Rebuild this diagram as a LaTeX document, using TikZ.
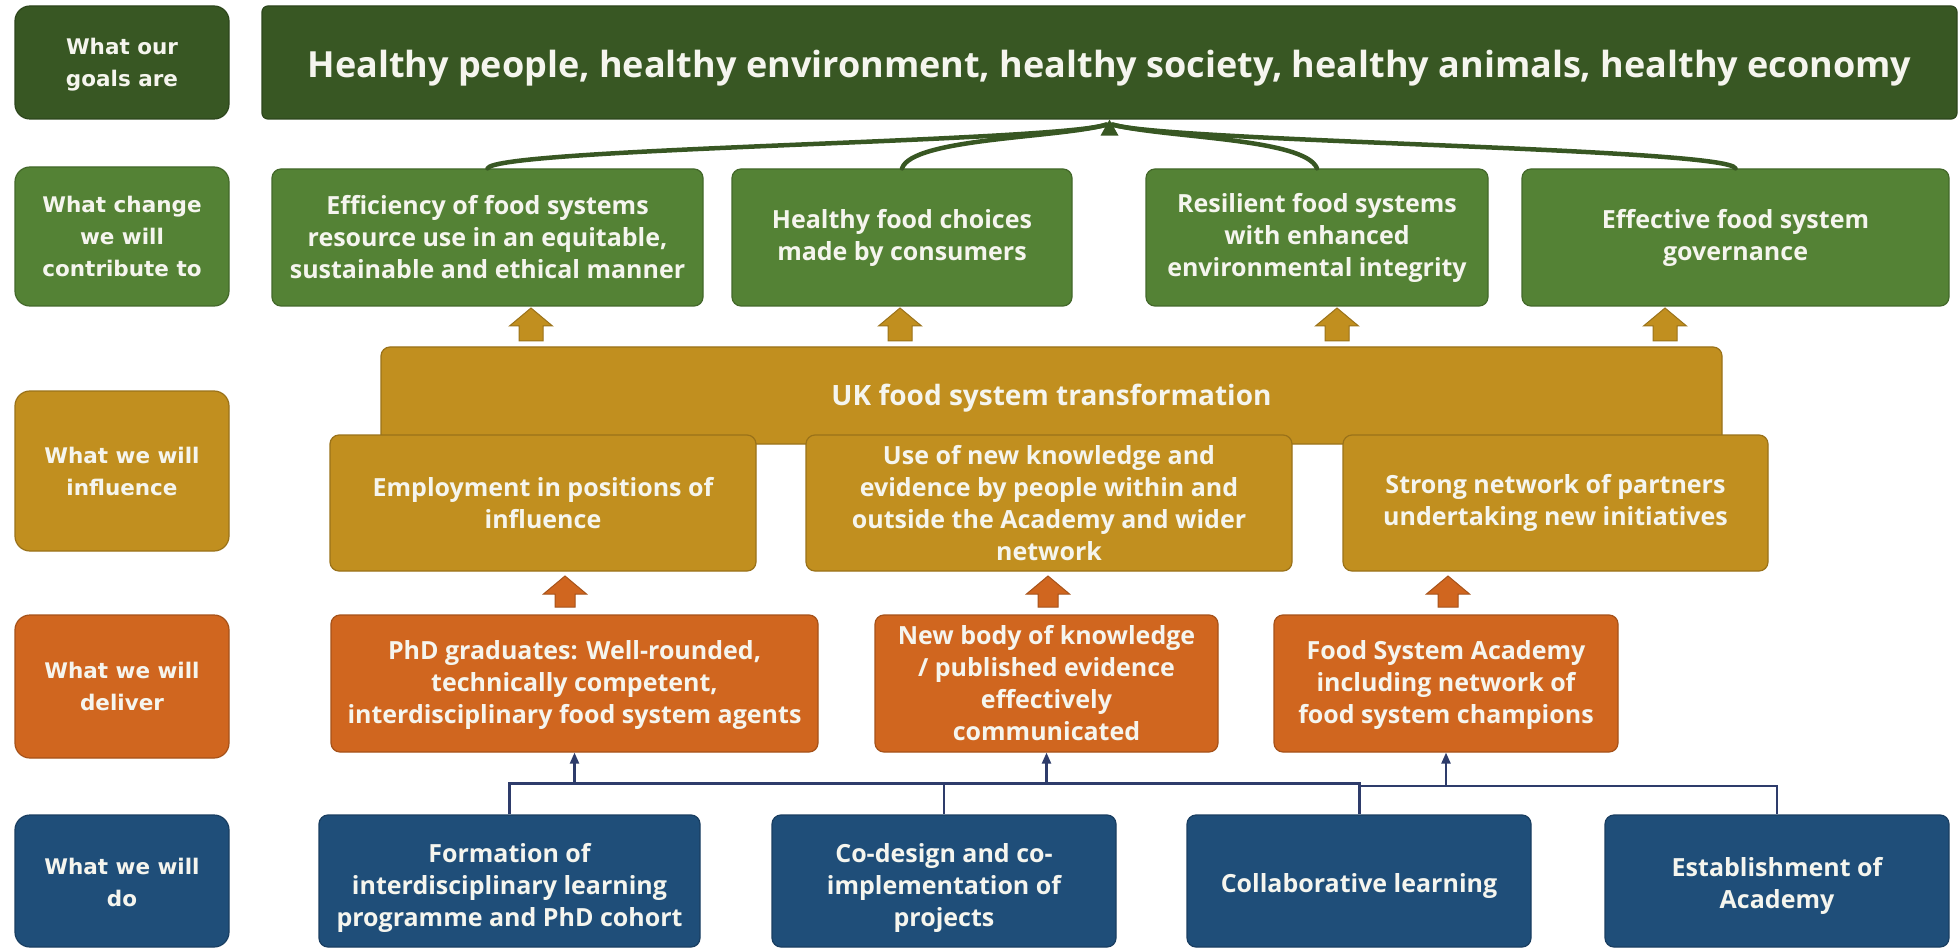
\documentclass[tikz,border=0pt]{standalone}
\usepackage{fontspec}
\setmainfont{Open Sans}
\newfontfamily\labfont{DejaVu Sans}
\usetikzlibrary{arrows.meta}
\definecolor{gdk}{HTML}{385723}
\definecolor{gmd}{HTML}{548235}
\definecolor{gold}{HTML}{C18F1F}
\definecolor{orng}{HTML}{D0661F}
\definecolor{blu}{HTML}{1F4E79}
\definecolor{txt}{HTML}{F5F5EE}
\definecolor{navy}{HTML}{2E3C6B}
\newcommand\lowtext[2]{\raisebox{#1}[\height][\depth]{\begin{tabular}{@{}c@{}}#2\end{tabular}}}
\newcommand\lowline[2]{\raisebox{#1}[\height][\depth]{#2}}
\tikzset{
  box/.style={draw=#1!80!black, fill=#1, line width=1.2pt, rounded corners=9pt,
    text=txt, align=center, inner sep=0pt,
    font=\bfseries\fontsize{25}{32}\selectfont},
  lab/.style={box=#1, rounded corners=15pt, minimum width=214pt,
    font=\labfont\bfseries\fontsize{21.5}{32}\selectfont},
  curve/.style={draw=gdk, line width=4.5pt, line cap=round},
  thin/.style={draw=navy, line width=2.2pt},
  thinarr/.style={draw=navy, line width=2.2pt, -{Triangle[length=11pt,width=9pt]}},
  pics/uparrow/.style n args={3}{code={
    \filldraw[fill=#1, draw=#1!80!black, line width=1pt]
      (0,0) -- (21.5,18) -- (#2,18) -- (#2,#3) -- (-#2,#3) -- (-#2,18) -- (-21.5,18) -- cycle;}}
}
\begin{document}
\begin{tikzpicture}[x=1pt,y=-1pt]
\useasboundingbox (0,0) rectangle (1959,949);
\fill[white] (0,0) rectangle (1959,949);

% left labels
\node[lab=gdk,  minimum height=113pt] (l1) at (122,62.5) {\lowtext{-2pt}{What our\\goals are}};
\node[lab=gmd,  minimum height=139pt] (l2) at (122,236.5) {What change\\we will\\contribute to};
\node[lab=gold, minimum height=160pt] (l3) at (122,471) {What we will\\influence};
\node[lab=orng, minimum height=143pt] (l4) at (122,686.5) {What we will\\deliver};
\node[lab=blu,  minimum height=132pt] (l5) at (122,881) {\lowtext{-3pt}{What we will\\do}};

% goal
\node[box=gdk, rounded corners=6pt, minimum width=1695pt, minimum height=113pt,
  font=\bfseries\fontsize{36}{40}\selectfont] (goal) at (1109.5,62.5)
  {\lowline{-6pt}{Healthy people, healthy environment, healthy society, healthy animals, healthy economy}};

% change
\node[box=gmd, minimum width=431pt, minimum height=137pt] (c1) at (487.5,237.5)
  {Efficiency of food systems\\resource use in an equitable,\\sustainable and ethical manner};
\node[box=gmd, minimum width=340pt, minimum height=137pt] (c2) at (902,237.5)
  {Healthy food choices\\made by consumers};
\node[box=gmd, minimum width=342pt, minimum height=137pt] (c3) at (1317,237.5)
  {Resilient food systems\\with enhanced\\environmental integrity};
\node[box=gmd, minimum width=427pt, minimum height=137pt] (c4) at (1735.5,237.5)
  {Effective food system\\governance};

% curves to goal
\coordinate (tip) at (goal.south);
\draw[curve] (c1.north) .. controls (496,148) and (1055,142) .. ([xshift=-3pt,yshift=-5pt]tip);
\draw[curve] (c2.north) .. controls (912,138) and (1060,138) .. ([xshift=-3pt,yshift=-5pt]tip);
\draw[curve] (c3.north) .. controls (1305,138) and (1165,138) .. ([xshift=3pt,yshift=-5pt]tip);
\draw[curve] (c4.north) .. controls (1727,148) and (1170,142) .. ([xshift=3pt,yshift=-5pt]tip);
\fill[gdk] ([xshift=-9pt,yshift=-16pt]tip) -- (tip) -- ([xshift=9pt,yshift=-16pt]tip) -- cycle;

% UK box (behind influence boxes)
\node[box=gold, minimum width=1341pt, minimum height=97pt,
  font=\bfseries\fontsize{28}{34}\selectfont] (uk) at (1051.5,395.5)
  {\lowline{-3pt}{UK food system transformation}};

% influence
\node[box=gold, minimum width=426pt, minimum height=136pt] (i1) at (543,503)
  {Employment in positions of\\influence};
\node[box=gold, minimum width=486pt, minimum height=136pt] (i2) at (1049,503)
  {Use of new knowledge and\\evidence by people within and\\outside the Academy and wider\\network};
\node[box=gold, minimum width=425pt, minimum height=136pt] (i3) at (1555.5,503)
  {Strong network of partners\\undertaking new initiatives};

% gold block arrows
\pic at (531,308) {uparrow={gold}{12}{33}};
\pic at (900,308) {uparrow={gold}{12}{33}};
\pic at (1337,308) {uparrow={gold}{12}{33}};
\pic at (1665,308) {uparrow={gold}{12}{33}};

% deliver
\node[box=orng, minimum width=487pt, minimum height=137pt] (d1) at (574.5,683.5)
  {\lowtext{-2pt}{PhD graduates: Well-rounded,\\technically competent,\\interdisciplinary food system agents}};
\node[box=orng, minimum width=343pt, minimum height=137pt] (d2) at (1046.5,683.5)
  {New body of knowledge\\/ published evidence\\effectively\\communicated};
\node[box=orng, minimum width=344pt, minimum height=137pt] (d3) at (1446,683.5)
  {\lowtext{-2pt}{Food System Academy\\including network of\\food system champions}};

% orange block arrows
\pic at (565,576) {uparrow={orng}{10}{31}};
\pic at (1048,576) {uparrow={orng}{10}{31}};
\pic at (1448,576) {uparrow={orng}{10}{31}};

% do
\node[box=blu, minimum width=381pt, minimum height=132pt] (b1) at (509.5,881)
  {\lowtext{-7pt}{Formation of\\interdisciplinary learning\\programme and PhD cohort}};
\node[box=blu, minimum width=344pt, minimum height=132pt] (b2) at (944,881)
  {\lowtext{-7pt}{Co-design and co-\\implementation of\\projects}};
\node[box=blu, minimum width=344pt, minimum height=132pt] (b3) at (1359,881)
  {\lowline{-5pt}{Collaborative learning}};
\node[box=blu, minimum width=344pt, minimum height=132pt] (b4) at (1777,881)
  {\lowtext{-5pt}{Establishment of\\Academy}};

% thin connectors
\coordinate (h1) at (0,783);
\coordinate (h2) at (0,786);
\draw[thin, line width=3pt] (b1.north) -- (b1.north |- h1) -- (b3.north |- h1) -- (b3.north);
\draw[thin] (b2.north) -- (b2.north |- h1);
\draw[thin] (b3.north |- h2) -- (b4.north |- h2) -- (b4.north);
\draw[thinarr] (d1.south |- h1) -- (d1.south);
\draw[thinarr] (d2.south |- h1) -- (d2.south);
\draw[thinarr] (d3.south |- h2) -- (d3.south);
\end{tikzpicture}
\end{document}
